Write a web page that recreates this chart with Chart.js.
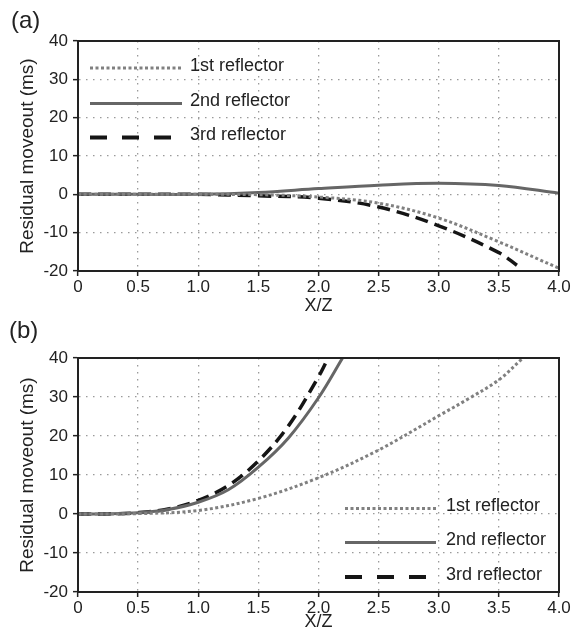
<!DOCTYPE html>
<html>
<head>
<meta charset="utf-8">
<script src="https://cdn.jsdelivr.net/npm/chart.js@4.4.1/dist/chart.umd.min.js"></script>
<style>
  html, body { margin: 0; padding: 0; background: #fff; }
  #wrap { position: relative; width: 586px; height: 635px; }
  canvas { position: absolute; left: 0; }
  #chartA { top: 0; }
  #chartB { top: 317px; }
</style>
</head>
<body>
<div id="wrap">
  <canvas id="chartA" width="586" height="317"></canvas>
  <canvas id="chartB" width="586" height="318"></canvas>
</div>
<script>
// axis ticks
const xTicks = [0, 0.5, 1.0, 1.5, 2.0, 2.5, 3.0, 3.5, 4.0]
const yTicks = [-20, -10, 0, 10, 20, 30, 40]
const seriesNames = ['1st reflector', '2nd reflector', '3rd reflector']

// panel (a)
const aX1 = [0, 0.5, 1.0, 1.5, 2.0, 2.5, 3.0, 3.5, 4.0]
const aY1 = [0, 0, 0, -0.1, -0.7, -2.3, -6.2, -12.4, -19.3]
const aX2 = [0, 0.5, 1.0, 1.5, 2.0, 2.5, 3.0, 3.5, 4.0]
const aY2 = [0, 0, 0, 0.5, 1.5, 2.4, 2.9, 2.3, 0.3]
const aX3 = [0, 0.5, 1.0, 1.5, 2.0, 2.5, 3.0, 3.5, 3.65]
const aY3 = [0, 0, 0, -0.4, -1.0, -3.3, -8.2, -15.2, -18.5]

// panel (b)
const bX1 = [0, 0.5, 1.0, 1.5, 2.0, 2.5, 3.0, 3.25, 3.5, 3.7]
const bY1 = [0, 0.1, 0.9, 4.0, 9.3, 16.4, 25.2, 29.6, 34.4, 40]
const bX2 = [0, 0.25, 0.5, 0.75, 1.0, 1.25, 1.5, 1.75, 2.0, 2.2]
const bY2 = [0, 0.03, 0.3, 1.15, 3.0, 6.2, 12.0, 19.5, 29.8, 40]
const bX3 = [0, 0.25, 0.5, 0.75, 1.0, 1.25, 1.5, 1.75, 2.0, 2.08]
const bY3 = [0, 0.03, 0.35, 1.3, 3.5, 7.3, 13.6, 22.6, 35.2, 40]

Chart.defaults.font.family = '"Liberation Sans", Arial, sans-serif'
Chart.defaults.color = '#222'

const toPoints = (xs, ys) => xs.map((x, i) => ({x: x, y: ys[i]}))

function makeDatasets(x1, y1, x2, y2, x3, y3) {
  return [
    {
      label: seriesNames[0],
      data: toPoints(x1, y1),
      borderColor: '#808080',
      borderWidth: 3,
      borderDash: [3, 2.5],
      legendDash: [3, 2.5],
    },
    {
      label: seriesNames[1],
      data: toPoints(x2, y2),
      borderColor: '#666666',
      borderWidth: 3,
      borderDash: [],
      legendDash: [],
    },
    {
      label: seriesNames[2],
      data: toPoints(x3, y3),
      borderColor: '#151515',
      borderWidth: 3.5,
      borderDash: [13, 7],
      legendDash: [17, 15],
      legendWidth: 4,
    },
  ].map(ds => Object.assign(ds, {
    pointRadius: 0,
    fill: false,
    tension: 0.35,
    borderCapStyle: 'butt',
  }))
}

// box around the plot area, the panel letter and the in-plot legend
const framePlugin = {
  id: 'frameBox',
  afterDraw(chart, args, opts) {
    const {ctx, chartArea: a} = chart
    ctx.save()
    ctx.strokeStyle = '#222'
    ctx.lineWidth = 2
    ctx.setLineDash([])
    ctx.strokeRect(a.left, a.top, a.right - a.left, a.bottom - a.top)

    ctx.fillStyle = '#222'
    ctx.font = '24px "Liberation Sans", Arial, sans-serif'
    ctx.textBaseline = 'alphabetic'
    ctx.fillText(opts.letter, opts.letterX, opts.letterY)

    ctx.font = '18px "Liberation Sans", Arial, sans-serif'
    chart.data.datasets.forEach((ds, i) => {
      const y = opts.rows[i]
      ctx.beginPath()
      ctx.strokeStyle = ds.borderColor
      ctx.lineWidth = ds.legendWidth || ds.borderWidth
      ctx.lineCap = 'butt'
      ctx.setLineDash(ds.legendDash)
      ctx.moveTo(opts.x0, y - 2.5)
      ctx.lineTo(opts.x1, y - 2.5)
      ctx.stroke()
      ctx.setLineDash([])
      ctx.fillText(ds.label, opts.tx, y)
    })
    ctx.restore()
  }
}

function makeOptions(xAxisHeight, xTitlePad, panel) {
  return {
    responsive: false,
    animation: false,
    layout: { padding: { left: 0, right: 27, top: 41, bottom: 0 } },
    plugins: {
      legend: { display: false },
      tooltip: { enabled: false },
      frameBox: panel,
    },
    scales: {
      x: {
        type: 'linear',
        min: 0,
        max: 4,
        afterBuildTicks: s => { s.ticks = xTicks.map(v => ({value: v})) },
        ticks: {
          font: { size: 17 },
          padding: 1,
          maxRotation: 0,
          callback: v => v === 0 ? '0' : v.toFixed(1),
        },
        grid: {
          color: '#9a9a9a',
          lineWidth: 1.3,
          tickLength: 5,
          tickColor: '#222',
          tickWidth: 1.5,
          tickBorderDash: [],
        },
        border: { color: '#222', width: 2, dash: [1.5, 5.5] },
        title: {
          display: true,
          text: 'X/Z',
          font: { size: 18 },
          padding: { top: 0, bottom: xTitlePad },
        },
        afterFit: s => { s.height = xAxisHeight },
      },
      y: {
        min: -20,
        max: 40,
        afterBuildTicks: s => { s.ticks = yTicks.map(v => ({value: v})) },
        ticks: { font: { size: 17 }, padding: 5 },
        grid: {
          color: '#9a9a9a',
          lineWidth: 1.3,
          tickLength: 5,
          tickColor: '#222',
          tickWidth: 1.5,
          tickBorderDash: [],
        },
        border: { color: '#222', width: 2, dash: [1.5, 5.5] },
        title: {
          display: true,
          text: 'Residual moveout (ms)',
          font: { size: 19 },
          padding: { top: 16, bottom: 0 },
        },
        afterFit: s => { s.width = 78 },
      },
    },
  }
}

new Chart(document.getElementById('chartA'), {
  type: 'line',
  data: { datasets: makeDatasets(aX1, aY1, aX2, aY2, aX3, aY3) },
  options: makeOptions(46, 0, {
    letter: '(a)', letterX: 11, letterY: 28,
    x0: 90, x1: 182, tx: 190, rows: [70.5, 106, 140],
  }),
  plugins: [framePlugin],
})

new Chart(document.getElementById('chartB'), {
  type: 'line',
  data: { datasets: makeDatasets(bX1, bY1, bX2, bY2, bX3, bY3) },
  options: makeOptions(43, 2, {
    letter: '(b)', letterX: 9, letterY: 21,
    x0: 345, x1: 436, tx: 446, rows: [194, 228, 262.5],
  }),
  plugins: [framePlugin],
})
</script>
</body>
</html>
